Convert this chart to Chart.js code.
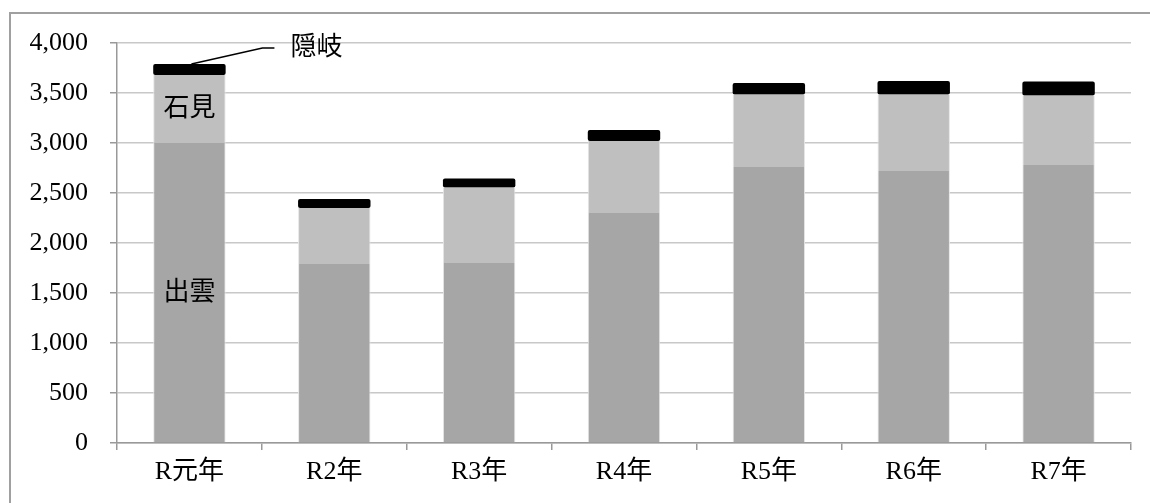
<!DOCTYPE html>
<html>
<head>
<meta charset="utf-8">
<script src="https://cdn.jsdelivr.net/npm/chart.js@4.4.1/dist/chart.umd.min.js"></script>
<style>
  body { margin: 0; background: #fff; }
  #wrap { width: 1150px; height: 503px; }
</style>
</head>
<body>
<div id="wrap"><canvas id="Graph" width="1150" height="503"></canvas></div>
<script>
// categories and series values
const years = ['R元年', 'R2年', 'R3年', 'R4年', 'R5年', 'R6年', 'R7年'];
const izumo = [3000, 1790, 1800, 2300, 2760, 2720, 2780];
const iwami = [680, 560, 755, 720, 725, 765, 695];
const oki = [110, 90, 90, 110, 115, 135, 140];
const yTicks = [0, 500, 1000, 1500, 2000, 2500, 3000, 3500, 4000];

const FONT = '"Liberation Serif", "Noto Sans CJK JP", serif';

// frame around the chart + the in-bar labels of the first bar
const decorations = {
    id: 'decorations',
    beforeDraw(chart) {
        const c = chart.ctx;
        c.save();
        c.strokeStyle = '#a0a0a0';
        c.lineWidth = 2;
        c.strokeRect(10, 13, 1200, 600);
        c.restore();
    },
    afterDatasetsDraw(chart) {
        const c = chart.ctx;
        const x = chart.scales.x;
        const y = chart.scales.y;
        const cx = x.getPixelForValue(0);
        c.save();
        c.fillStyle = '#000';
        c.font = '26px ' + FONT;
        c.textAlign = 'center';
        c.textBaseline = 'middle';
        c.fillText('出雲', cx, y.getPixelForValue(izumo[0] / 2));
        c.fillText('石見', cx, y.getPixelForValue(izumo[0] + iwami[0] / 2));

        // leader line for 隠岐
        const topY = y.getPixelForValue(izumo[0] + iwami[0] + oki[0]);
        c.strokeStyle = '#000';
        c.lineWidth = 1.5;
        c.beginPath();
        c.moveTo(cx + 2, topY);
        c.lineTo(cx + 73, topY - 16);
        c.lineTo(cx + 85, topY - 16);
        c.stroke();
        c.textAlign = 'left';
        c.fillText('隠岐', cx + 101, topY - 16);
        c.restore();
    }
};

const ctx = document.getElementById('Graph').getContext('2d');
new Chart(ctx, {
    type: 'bar',
    data: {
        labels: years,
        datasets: [
            {
                label: '出雲',
                data: izumo,
                backgroundColor: '#a6a6a6',
                borderColor: '#e6e6e6',
                borderWidth: { left: 1, right: 1, top: 0, bottom: 0 },
                borderSkipped: false
            },
            {
                label: '石見',
                data: iwami,
                backgroundColor: '#bfbfbf',
                borderColor: '#e6e6e6',
                borderWidth: { left: 1, right: 1, top: 0, bottom: 0 },
                borderSkipped: false
            },
            {
                label: '隠岐',
                data: oki,
                backgroundColor: '#000',
                borderColor: '#000',
                borderWidth: 0,
                borderRadius: 2,
                borderSkipped: false
            }
        ]
    },
    options: {
        responsive: false,
        animation: false,
        devicePixelRatio: 1,
        categoryPercentage: 1,
        barPercentage: 0.5,
        layout: { padding: { left: 0, right: 19, top: 43, bottom: 0 } },
        plugins: {
            legend: { display: false },
            tooltip: { enabled: false }
        },
        scales: {
            x: {
                stacked: true,
                offset: true,
                grid: {
                    offset: true,
                    drawOnChartArea: false,
                    drawTicks: true,
                    tickLength: 7,
                    color: '#999',
                    lineWidth: 1.5
                },
                border: { color: '#999', width: 1.5 },
                ticks: {
                    color: '#000',
                    padding: 7,
                    font: { family: FONT, size: 26 }
                },
                afterFit(scale) { scale.height = 60; }
            },
            y: {
                stacked: true,
                min: 0,
                max: 4000,
                afterBuildTicks(scale) { scale.ticks = yTicks.map(v => ({ value: v })); },
                grid: {
                    color: '#c8c8c8',
                    lineWidth: 1.5,
                    tickLength: 7,
                    tickColor: '#999'
                },
                border: { color: '#999', width: 1.5 },
                ticks: {
                    color: '#000',
                    padding: 22,
                    font: { family: FONT, size: 26 },
                    callback: v => v.toLocaleString('en-US')
                },
                afterFit(scale) { scale.width = 117; }
            }
        }
    },
    plugins: [decorations]
});
</script>
</body>
</html>
